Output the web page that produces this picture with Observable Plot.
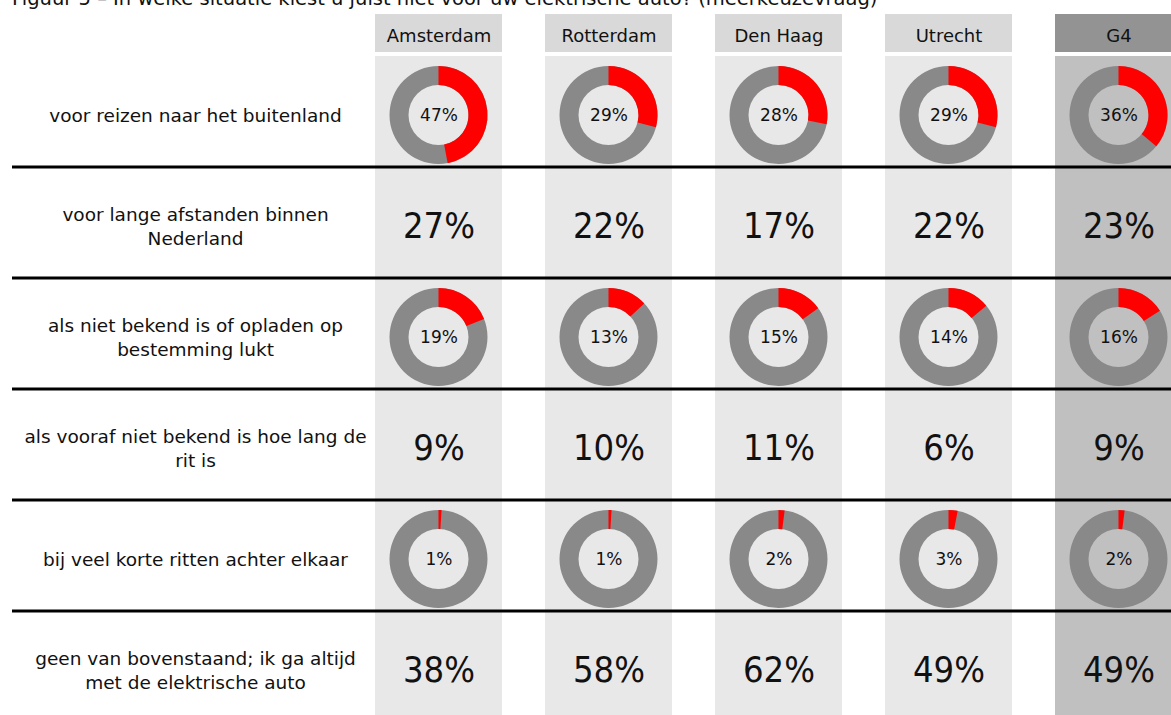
<!DOCTYPE html>
<html>
<head>
<meta charset="utf-8">
<script src="https://cdn.jsdelivr.net/npm/d3@7"></script>
<script src="https://cdn.jsdelivr.net/npm/@observablehq/plot@0.6"></script>
<style>
  html, body { margin: 0; padding: 0; background: #fff; overflow: hidden; }
  body { position: relative; width: 1171px; height: 715px; }
  #title { position: absolute; left: 12px; top: -11px; font: 19.5px/19.5px "DejaVu Sans", sans-serif; color: #111; white-space: nowrap; }
  #chart { position: absolute; left: 0; top: 0; }
</style>
</head>
<body>
<div id="title">Figuur 5 – In welke situatie kiest u juist niet voor uw elektrische auto? (meerkeuzevraag)</div>
<div id="chart"></div>
<script>
// ---- data ----
const cities = ["Amsterdam", "Rotterdam", "Den Haag", "Utrecht", "G4"];
const questions = [
  "voor reizen naar het buitenland",
  "voor lange afstanden binnen\nNederland",
  "als niet bekend is of opladen op\nbestemming lukt",
  "als vooraf niet bekend is hoe lang de\nrit is",
  "bij veel korte ritten achter elkaar",
  "geen van bovenstaand; ik ga altijd\nmet de elektrische auto"
];
// which rows are drawn as donuts
const donutRows = [0, 2, 4];
// values per question (rows) and city (columns), in %
const valBuitenland   = [47, 29, 28, 29, 36];
const valLangeAfst    = [27, 22, 17, 22, 23];
const valOpladen      = [19, 13, 15, 14, 16];
const valRitLengte    = [9, 10, 11, 6, 9];
const valKorteRitten  = [1, 1, 2, 3, 2];
const valGeenVan      = [38, 58, 62, 49, 49];
const values = [valBuitenland, valLangeAfst, valOpladen, valRitLengte, valKorteRitten, valGeenVan];

// ---- derived table ----
const cells = [];
questions.forEach((q, qi) => cities.forEach((c, ci) => cells.push({q, city: c, v: values[qi][ci], donut: donutRows.includes(qi)})));
const donutCells = cells.filter(d => d.donut);
const textCells = cells.filter(d => !d.donut);

const W = 1171, H = 715;
const colFill = "#e8e8e8", colFillG4 = "#c0c0c0";
const headFill = "#d9d9d9", headFillG4 = "#939393";
const ringGray = "#898989", red = "#ff0000";
const font = "DejaVu Sans, sans-serif";

// custom mark: donuts positioned by the x/y band scales
function donuts(data, {inner = 30, outer = 49, dy = 0} = {}) {
  return (index, scales) => {
    const {x, y} = scales;
    const g = d3.create("svg:g");
    const arc = d3.arc().innerRadius(inner).outerRadius(outer);
    for (const d of data) {
      const cx = x(d.city) + x.bandwidth() / 2;
      const cy = y(d.q) + y.bandwidth() / 2 + dy;
      const gg = g.append("g").attr("transform", `translate(${cx},${cy})`);
      gg.append("path").attr("d", arc({startAngle: 0, endAngle: 2 * Math.PI})).attr("fill", ringGray);
      gg.append("path").attr("d", arc({startAngle: 0, endAngle: 2 * Math.PI * d.v / 100})).attr("fill", red);
    }
    return g.node();
  };
}
// custom mark: row separators at the band boundaries of the y scale
function separators(rows, {x1 = 12, strokeWidth = 3} = {}) {
  return (index, scales, values, dims) => {
    const {y} = scales;
    const g = d3.create("svg:g");
    for (const q of rows) {
      const yy = y(q);
      g.append("line").attr("x1", x1).attr("x2", dims.width).attr("y1", yy).attr("y2", yy)
        .attr("stroke", "#000").attr("stroke-width", strokeWidth);
    }
    return g.node();
  };
}

const plot = Plot.plot({
  width: W,
  height: H,
  marginTop: 14, marginBottom: 0, marginLeft: 0, marginRight: 0,
  style: {fontFamily: font, background: "transparent", overflow: "visible"},
  x: {type: "band", domain: cities, range: [375, 1182], paddingInner: 0.253, paddingOuter: 0, align: 0, axis: null},
  y: {type: "band", domain: questions, range: [55, 722], padding: 0, axis: null},
  marks: [
    // column backgrounds
    Plot.cell(cells.filter(d => d.city !== "G4"), {x: "city", y: "q", fill: colFill}),
    Plot.cell(cells.filter(d => d.city === "G4"), {x: "city", y: "q", fill: colFillG4}),
    // header boxes
    Plot.cell(cities.filter(c => c !== "G4"), {x: d => d, fill: headFill, insetBottom: H - 52}),
    Plot.cell(cities.filter(c => c === "G4"), {x: d => d, fill: headFillG4, insetBottom: H - 52}),
    Plot.text(cities, {x: d => d, text: d => d, frameAnchor: "top", dy: 21.5, lineAnchor: "middle", fontSize: 18, fill: "#111"}),
    // row labels
    Plot.text(questions, {y: d => d, text: d => d, frameAnchor: "left", dx: 195, dy: 2, textAnchor: "middle", lineAnchor: "middle", lineHeight: 1.35, fontSize: 18.5, fill: "#111"}),
    // separators
    separators(questions.slice(1)),
    // donuts
    donuts(donutCells, {dy: 3.5}),
    Plot.text(donutCells, {x: "city", y: "q", text: d => d.v + "%", dy: 3.5, fontSize: 17, fill: "#111"}),
    // big numbers
    Plot.text(textCells, {x: "city", y: "q", text: d => d.v + "%", dy: 3.5, fontSize: 36, fontFamily: "DejaVu Sans Condensed, DejaVu Sans, sans-serif", fill: "#111"})
  ]
});
document.getElementById("chart").appendChild(plot);
</script>
</body>
</html>
